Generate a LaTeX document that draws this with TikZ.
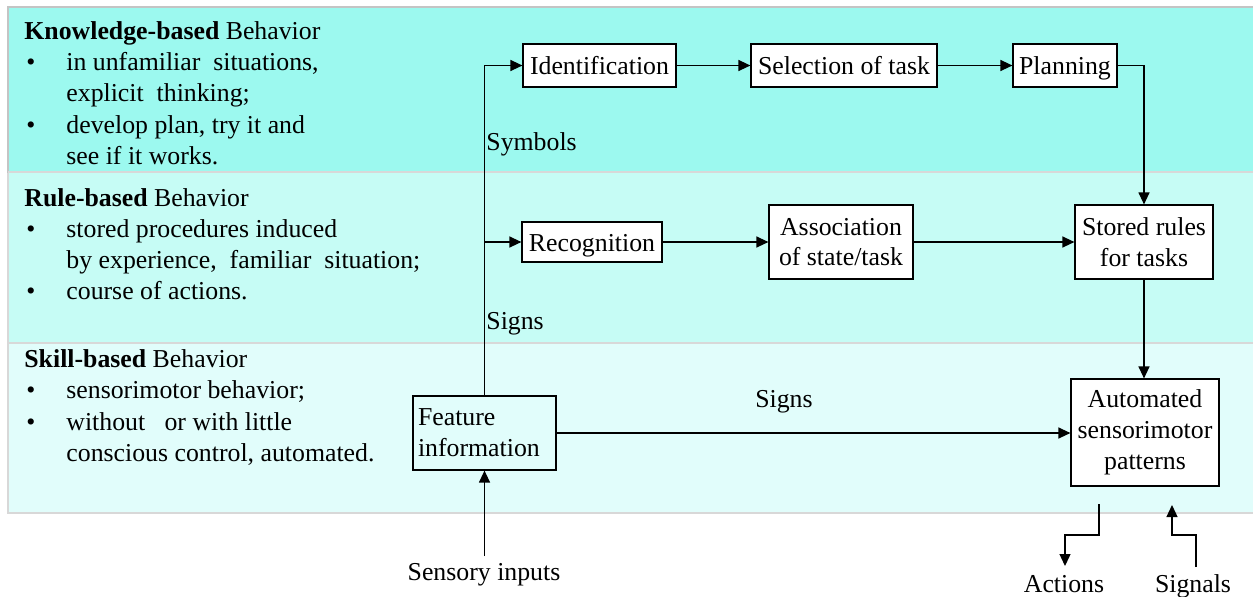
\documentclass[tikz,border=0pt]{standalone}
\usepackage{fontspec}
\setmainfont{Liberation Serif}
\usetikzlibrary{arrows.meta}
\definecolor{kband}{HTML}{9CF9EF}
\definecolor{rband}{HTML}{C6FCF5}
\definecolor{sband}{HTML}{E1FDFB}
\definecolor{bordA}{HTML}{C4C4C4}
\definecolor{bordB}{HTML}{D8D8D8}
\begin{document}
\begin{tikzpicture}[x=0.5pt,y=-0.5pt,
  font=\fontsize{12.9}{15.4}\selectfont,
  box/.style={draw, line width=0.6pt, fill=white, inner sep=0pt, align=center},
  onebox/.style={box, text height=10pt, text depth=0.6pt},
  conn/.style={line width=0.65pt, -{Triangle[length=6pt,width=5.5pt]}},
  txt/.style={inner sep=0pt, anchor=base west},
  band/.style={line width=1.3pt}]
\clip (0,0) rectangle (1253,596);
\useasboundingbox (0,0) rectangle (1253,596);
% bands
\path[band, fill=sband, draw=bordB] (8,343) rectangle (1270,513);
\path[band, fill=rband, draw=bordB] (8,172) rectangle (1270,343);
\path[band, fill=kband, draw=bordA] (8,7) rectangle (1270,172);
\draw[bordB, line width=1.3pt] (8,172) -- (1270,172);
\draw[bordB, line width=1.3pt] (8,343) -- (1270,343);

% left texts
\node[txt] (kh) at (24,39) {\textbf{Knowledge-based} Behavior};
\node[txt] (kb1) at (26,70.5) {\textbullet};
\node[txt] (k1) at (66,70.5) {in unfamiliar\ \ situations,};
\node[txt] (k2) at (66,101.5) {explicit\ \ thinking;};
\node[txt] (kb2) at (26,133) {\textbullet};
\node[txt] (k3) at (66,133) {develop plan, try it and};
\node[txt] (k4) at (66,164.5) {see if it works.};

\node[txt] (rh) at (24,206.5) {\textbf{Rule-based} Behavior};
\node[txt] (rb1) at (26,237) {\textbullet};
\node[txt] (r1) at (66,237) {stored procedures induced};
\node[txt] (r2) at (66,268) {by experience,\ \ familiar\ \ situation;};
\node[txt] (rb2) at (26,299) {\textbullet};
\node[txt] (r3) at (66,299) {course of actions.};

\node[txt] (sh) at (24,367) {\textbf{Skill-based} Behavior};
\node[txt] (sb1) at (26,398.5) {\textbullet};
\node[txt] (s1) at (66,398.5) {sensorimotor behavior;};
\node[txt] (sb2) at (26,430) {\textbullet};
\node[txt] (s2) at (66,430) {without\ \ \ or with\ little};
\node[txt] (s3) at (66,461.5) {conscious control, automated.};

% boxes
\node[onebox, minimum width=76.5pt, minimum height=21.5pt] (ident) at (599.5,65.5) {Identification};
\node[onebox, minimum width=93pt, minimum height=21.5pt] (sel) at (844,65.5) {Selection of task};
\node[onebox, minimum width=52pt, minimum height=21.5pt] (plan) at (1065,65.5) {Planning};
\node[onebox, minimum width=70pt, minimum height=20pt] (rec) at (592,242) {Recognition};
\node[box, minimum width=72pt, minimum height=37pt] (assoc) at (841,242) {Association\\of state/task};
\node[box, minimum width=69pt, minimum height=37pt] (stored) at (1144,242) {Stored rules\\for tasks};
\node[draw, line width=0.6pt, inner xsep=2.5pt, inner ysep=0pt, text width=66.5pt, minimum height=37pt, align=left] (feat) at (484.5,433) {Feature\\information};
\node[box, minimum width=74pt, minimum height=53.5pt] (auto) at (1145,432.5) {Automated\\sensorimotor\\patterns};

% labels
\node[txt] (sym) at (486,150) {Symbols};
\node[txt] (sg1) at (486,329) {Signs};
\node[inner sep=0pt, anchor=base] (sg2) at (784,407) {Signs};
\node[inner sep=0pt, anchor=base] (sens) at (484,580) {Sensory inputs};
\node[inner sep=0pt, anchor=base] (act) at (1064,592) {Actions};
\node[inner sep=0pt, anchor=base] (sig) at (1193,592) {Signals};

% connectors
\coordinate (sensTop) at (484.5,556);
\draw[conn] (feat.north) |- (ident.west);
\draw[conn] (feat.north |- rec.west) -- (rec.west);
\draw[conn] (ident) -- (sel);
\draw[conn] (sel) -- (plan);
\draw[conn] (plan.east) -| (stored.north);
\draw[conn] (rec) -- (assoc);
\draw[conn] (assoc) -- (stored);
\draw[conn] (stored.south) -- (stored.south |- auto.north);
\draw[conn] (feat.east) -- (auto.west |- feat.east);
\draw[conn] (sensTop) -- (feat.south);
\coordinate (a0) at (1099,504);
\coordinate (a1) at (1099,535);
\coordinate (a2) at (1065,535);
\coordinate (a3) at (1065,566);
\draw[conn] (a0) -- (a1) -- (a2) -- (a3);
\coordinate (s0) at (1196,567);
\coordinate (s1) at (1196,535);
\coordinate (s2) at (1172,535);
\coordinate (s3) at (1172,505);
\draw[conn] (s0) -- (s1) -- (s2) -- (s3);
\end{tikzpicture}
\end{document}
